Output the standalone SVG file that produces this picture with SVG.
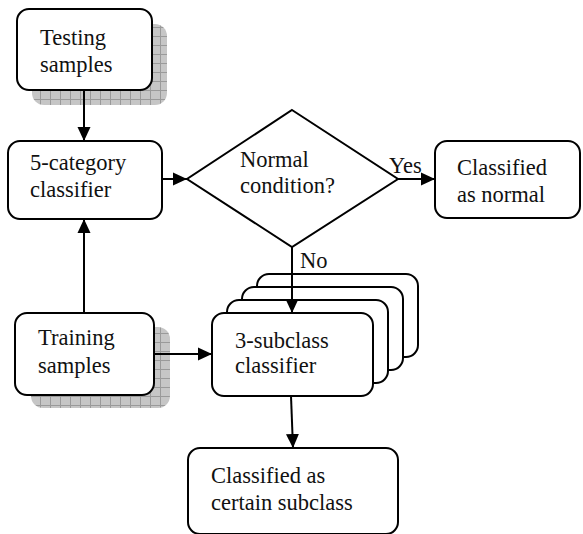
<svg xmlns="http://www.w3.org/2000/svg" width="583" height="534" viewBox="0 0 583 534">
<style>
.box{fill:#fff;stroke:#000;stroke-width:2}
.sh{fill:url(#grid);stroke:none}
.t{font-family:"Liberation Serif","Times New Roman",serif;font-size:22.5px;fill:#111}
.c{stroke:#000;stroke-width:2;fill:none}
</style>
<defs>
<pattern id="grid" patternUnits="userSpaceOnUse" width="10" height="9">
<rect width="10" height="9" fill="#c6c6c6"/>
<path d="M0 0.5H10M0.5 0V9" stroke="#9a9a9a" stroke-width="1" fill="none"/>
</pattern>
<marker id="ah" markerUnits="userSpaceOnUse" markerWidth="14" markerHeight="14" viewBox="0 0 14 14" refX="14" refY="7" orient="auto">
<path d="M0 0.5L14 7L0 13.5Z" fill="#000"/>
</marker>
</defs>
<g id="testing">
<rect class="sh" x="32" y="24" width="135" height="81" rx="12"/>
<rect class="box" x="17" y="9" width="135" height="81" rx="12"/>
<text class="t" x="40" y="45">Testing</text>
<text class="t" x="40" y="72">samples</text>
</g>
<g id="cat5">
<rect class="box" x="8" y="141" width="154" height="78" rx="12"/>
<text class="t" x="30" y="170">5-category</text>
<text class="t" x="30" y="197">classifier</text>
</g>
<g id="decision">
<polygon class="box" points="292,110 398,179 292,247 187,179"/>
<text class="t" x="240" y="167">Normal</text>
<text class="t" x="240" y="193">condition?</text>
</g>
<g id="normal">
<rect class="box" x="435" y="141" width="145" height="77" rx="12"/>
<text class="t" x="457" y="175">Classified</text>
<text class="t" x="457" y="202">as normal</text>
</g>
<g id="training">
<rect class="sh" x="31" y="327" width="139" height="81" rx="12"/>
<rect class="box" x="15" y="313" width="139" height="82" rx="12"/>
<text class="t" x="38" y="345">Training</text>
<text class="t" x="38" y="373">samples</text>
</g>
<g id="sub3">
<rect class="box" x="257" y="274" width="161" height="83" rx="12"/>
<rect class="box" x="242" y="287" width="161" height="83" rx="12"/>
<rect class="box" x="227" y="300" width="161" height="83" rx="12"/>
<rect class="box" x="212" y="313" width="161" height="83" rx="12"/>
<text class="t" x="235" y="348">3-subclass</text>
<text class="t" x="235" y="373">classifier</text>
</g>
<g id="subclass">
<rect class="box" x="188" y="448" width="210" height="86" rx="12"/>
<text class="t" x="211" y="483">Classified as</text>
<text class="t" x="211" y="510">certain subclass</text>
</g>
<g id="connectors">
<line class="c" x1="84" y1="90" x2="84" y2="141" marker-end="url(#ah)"/>
<line class="c" x1="162" y1="179" x2="187" y2="179" marker-end="url(#ah)"/>
<line class="c" x1="398" y1="179" x2="435" y2="179" marker-end="url(#ah)"/>
<line class="c" x1="84" y1="313" x2="84" y2="219" marker-end="url(#ah)"/>
<line class="c" x1="154" y1="354" x2="212" y2="354" marker-end="url(#ah)"/>
<line class="c" x1="292" y1="247" x2="292" y2="313" marker-end="url(#ah)"/>
<line class="c" x1="291" y1="396" x2="293" y2="448" marker-end="url(#ah)"/>
<text class="t" x="389" y="173">Yes</text>
<text class="t" x="300" y="268">No</text>
</g>
</svg>
